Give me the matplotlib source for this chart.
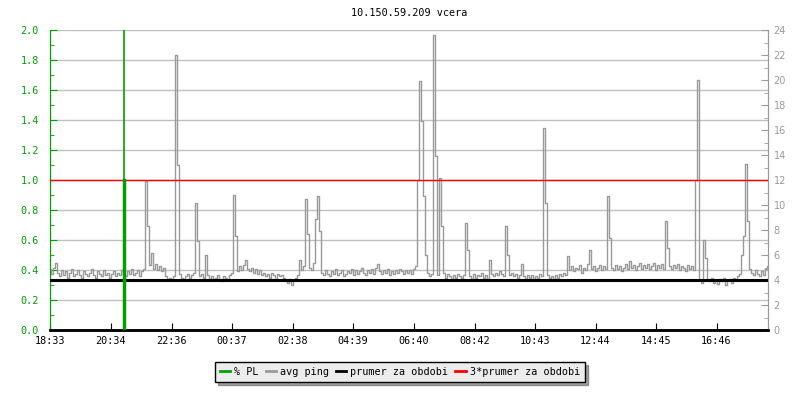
import matplotlib
matplotlib.use("Agg")
import matplotlib.pyplot as plt
from matplotlib.ticker import MultipleLocator, FormatStrFormatter

plt.rcParams['font.family'] = ['DejaVu Sans Mono']

# data: avg ping every 4 minutes from 18:33 (ms, right axis)
step_min = 4
ping = [
    4.9, 4.5, 5.0, 5.4, 4.6, 4.3, 4.8, 4.4, 4.7, 4.2, 4.6, 4.9, 4.3, 4.5, 4.8, 4.4, 4.2, 4.7, 4.5, 4.3,
    4.6, 4.9, 4.4, 4.2, 4.7, 4.5, 4.3, 4.8, 4.4, 4.6, 4.2, 4.5, 4.7, 4.3, 4.6, 4.4, 4.8, 4.5, 4.3, 4.7,
    4.5, 4.9, 4.4, 4.6, 4.8, 4.3, 4.7, 4.9, 11.9, 8.3, 5.2, 6.2, 4.9, 5.3, 4.8, 5.1, 4.7, 5.0, 4.3, 4.1,
    4.2, 4.0, 4.3, 22.0, 13.2, 4.5, 4.2, 4.1, 4.3, 4.5, 4.2, 4.4, 4.6, 10.2, 7.1, 4.3, 4.5, 4.2, 6.0, 4.4,
    4.1, 4.3, 4.0, 4.2, 4.4, 4.1, 3.9, 4.3, 4.2, 4.0, 4.4, 4.6, 10.8, 7.5, 4.7, 5.1, 4.8, 5.2, 5.6, 4.9,
    4.7, 5.0, 4.6, 4.9, 4.5, 4.8, 4.4, 4.6, 4.3, 4.5, 4.2, 4.6, 4.4, 4.1, 4.5, 4.3, 4.4, 4.2, 4.0, 3.8,
    4.1, 3.6, 3.9, 4.2, 4.4, 5.6, 4.8, 5.1, 10.5, 7.7, 5.0, 4.8, 5.4, 8.9, 10.7, 7.9, 4.6, 4.4, 4.8, 4.5,
    4.3, 4.7, 4.5, 4.9, 4.4, 4.6, 4.8, 4.3, 4.5, 4.7, 4.6, 4.9, 4.4, 4.8, 4.5, 4.7, 5.0, 4.6, 4.4, 4.8,
    4.6, 4.9, 4.5, 5.0, 5.3, 4.7, 4.5, 4.8, 4.6, 4.9, 4.4, 4.7, 4.5, 4.8, 4.6, 4.9, 4.7, 4.5, 4.8, 4.6,
    4.8, 4.5, 4.9, 5.1, 12.0, 19.9, 16.7, 10.7, 6.0, 4.6, 4.3, 4.5, 23.6, 13.9, 4.4, 12.2, 8.3, 4.6, 4.2, 4.5,
    4.3, 4.1, 4.4, 4.2, 4.5, 4.3, 4.2, 4.4, 8.6, 6.4, 4.3, 4.1, 4.5, 4.2, 4.4, 4.3, 4.6, 4.2, 4.4, 4.1,
    5.6, 4.5, 4.3, 4.6, 4.4, 4.7, 4.5, 4.3, 8.3, 6.0, 4.4, 4.6, 4.3, 4.5, 4.2, 4.4, 5.3, 4.3, 4.1, 4.4,
    4.2, 4.4, 4.1, 4.3, 4.2, 4.5, 4.3, 16.2, 10.2, 4.4, 4.2, 4.3, 4.1, 4.4, 4.2, 4.5, 4.3, 4.6, 4.4, 5.9,
    4.8, 5.1, 4.7, 5.0, 4.9, 5.2, 4.6, 5.0, 4.8, 5.3, 6.4, 4.9, 5.1, 4.7, 5.0, 5.2, 4.8, 5.1, 4.9, 10.7,
    7.4, 5.0, 4.8, 5.2, 4.9, 5.1, 4.7, 5.0, 5.3, 4.9, 5.5, 5.0, 5.2, 4.8, 5.1, 5.4, 4.9, 5.2, 5.0, 5.3,
    4.9, 5.1, 5.4, 4.8, 5.2, 5.0, 5.3, 4.9, 8.7, 6.6, 5.1, 4.9, 5.2, 5.0, 5.3, 4.8, 5.1, 5.0, 4.7, 5.2,
    4.9, 5.1, 4.8, 12.0, 20.0, 4.0, 3.8, 7.2, 5.8, 4.1, 3.9, 4.2, 3.8, 4.0, 3.7, 4.1, 3.9, 4.2, 3.6, 4.0,
    4.1, 3.8, 4.2, 4.0, 4.3, 4.5, 6.0, 7.5, 13.3, 8.7, 4.9, 4.6, 4.4, 4.8, 4.5, 4.3, 4.7, 4.4, 4.9, 5.1,
]
avg_ping = 4.0
pl_time = [148]      # minutes after 18:33
pl_value = [1.0]     # % PL

tick_labels = ['18:33', '20:34', '22:36', '00:37', '02:38', '04:39',
               '06:40', '08:42', '10:43', '12:44', '14:45', '16:46']

green = '#00a000'
gray = '#999999'

times = [i * step_min for i in range(len(ping))]

# tick positions: minutes after 18:33
tick_pos = []
for lab in tick_labels:
    h, m = lab.split(':')
    t = (int(h) * 60 + int(m) - (18 * 60 + 33)) % 1440
    tick_pos.append(t)

fig = plt.figure(figsize=(8, 4), dpi=100)
ax = fig.add_axes([50 / 800, 70 / 400, 718 / 800, 300 / 400])
ax2 = ax.twinx()

ax.set_xlim(0, 1436)
ax.set_ylim(0, 2.0)
ax2.set_ylim(0, 24)

for y in [0.2 * k for k in range(1, 11)]:
    ax.axhline(y, color='#c0c0c0', lw=1, zorder=0)

ax2.plot(times, ping, color=gray, lw=1, drawstyle='steps-mid', zorder=2)
ax2.axhline(avg_ping, color='black', lw=2.2, zorder=3)
ax2.axhline(3 * avg_ping, color='red', lw=1, zorder=3)

# % PL
for t, v in zip(pl_time, pl_value):
    ax2.axvline(t, color=green, lw=1.2, zorder=4)
    ax2.plot([t, t], [0, v * 12], color=green, lw=2.5, zorder=4)

ax.set_xticks(tick_pos)
ax.set_xticklabels(tick_labels)
ax.yaxis.set_major_locator(MultipleLocator(0.2))
ax.yaxis.set_minor_locator(MultipleLocator(0.1))
ax.yaxis.set_major_formatter(FormatStrFormatter('%.1f'))
ax2.yaxis.set_major_locator(MultipleLocator(2))
ax2.yaxis.set_minor_locator(MultipleLocator(1))

ax.tick_params(axis='x', direction='in', length=5, colors='black', labelsize=7.3, pad=4)
ax.tick_params(axis='y', which='both', direction='in', color=green, labelcolor=green, labelsize=7.3, pad=8)
ax.tick_params(axis='y', which='major', length=5)
ax.tick_params(axis='y', which='minor', length=3)
ax2.tick_params(axis='y', which='both', direction='in', color=gray, labelcolor=gray, labelsize=7, pad=4)
ax2.tick_params(axis='y', which='major', length=5)
ax2.tick_params(axis='y', which='minor', length=3)
for lab in ax2.get_yticklabels():
    lab.set_family('DejaVu Sans')

for a in (ax, ax2):
    a.spines['top'].set_visible(False)
    a.spines['left'].set_color(green)
    a.spines['right'].set_color(gray)
    a.spines['bottom'].set_color('black')
    a.spines['bottom'].set_linewidth(1.8)

ax.set_title('10.150.59.209 vcera', fontsize=7.3, pad=10)

handles = [
    plt.Line2D([], [], color=green, lw=2),
    plt.Line2D([], [], color=gray, lw=2),
    plt.Line2D([], [], color='black', lw=2),
    plt.Line2D([], [], color='red', lw=2),
]
labels = ['% PL', 'avg ping', 'prumer za obdobi', '3*prumer za obdobi']
leg = fig.legend(handles, labels, loc='center', bbox_to_anchor=(400 / 800, 1 - 372 / 400),
                 ncol=4, fontsize=7.3, frameon=True, fancybox=False, shadow=True,
                 edgecolor='black', facecolor='#ececec', framealpha=1,
                 handlelength=1.0, handletextpad=0.4, columnspacing=0.7,
                 borderpad=0.5)
leg.get_frame().set_linewidth(1)

fig.savefig('out.png', dpi=100)
